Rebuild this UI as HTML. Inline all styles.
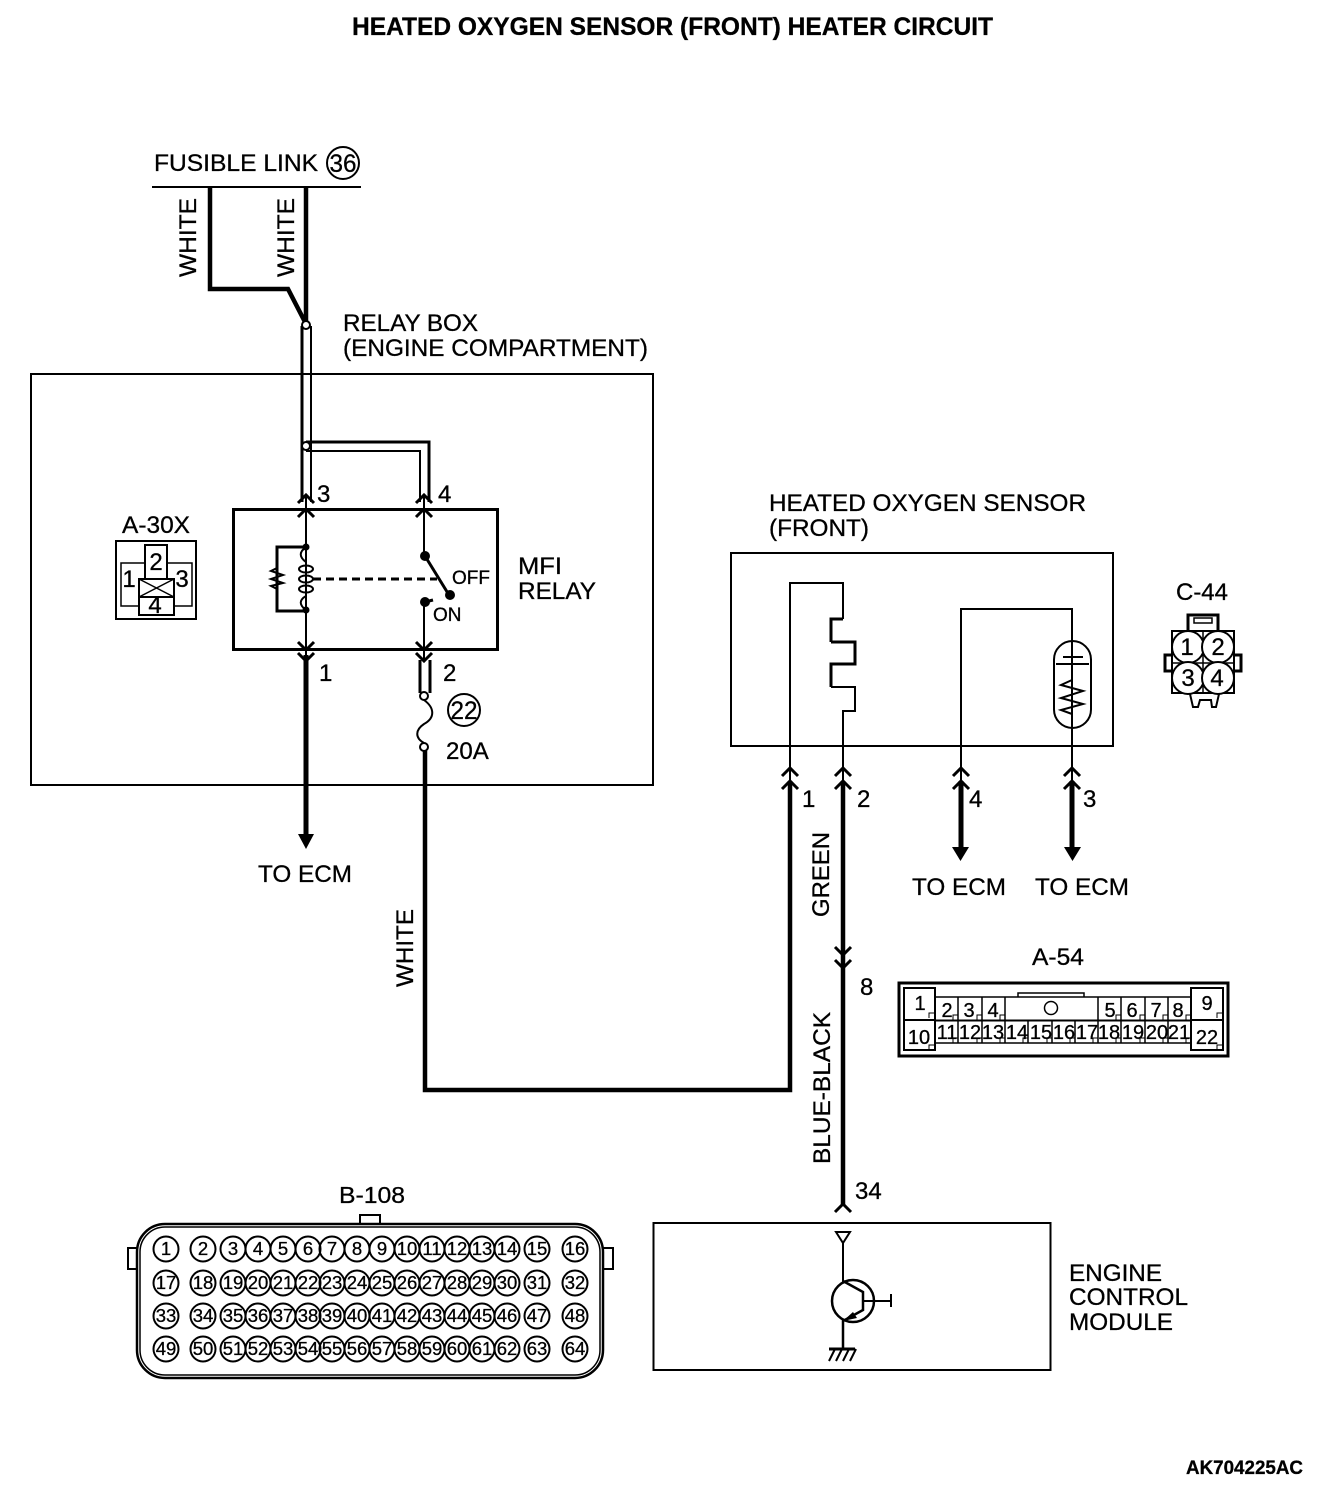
<!DOCTYPE html>
<html><head><meta charset="utf-8"><style>
html,body{margin:0;padding:0;background:#fff}
svg{display:block}
text{font-family:"Liberation Sans",sans-serif;fill:#000;font-size:24px;stroke:#000;stroke-width:.3px}
.s{font-size:19px}
.p{font-size:18.500px;text-anchor:middle}
.a{font-size:20px;text-anchor:middle}
.n{fill:none;stroke:#000;stroke-width:2}
.t{fill:none;stroke:#000;stroke-width:4.500}
.h{fill:none;stroke:#000;stroke-width:3}
.c{fill:none;stroke:#000;stroke-width:2}
.w{fill:#fff;stroke:#000;stroke-width:2}
</style></head><body>
<svg width="1344" height="1492" viewBox="0 0 1344 1492" xmlns="http://www.w3.org/2000/svg">
<text x="352" y="35" font-weight="bold" style="font-size:25px" textLength="641" lengthAdjust="spacingAndGlyphs">HEATED OXYGEN SENSOR (FRONT) HEATER CIRCUIT</text>

<!-- Fusible link -->
<text x="154" y="171" textLength="164" lengthAdjust="spacingAndGlyphs">FUSIBLE LINK</text>
<circle cx="343" cy="163" r="16" class="n"/><text x="343" y="172" text-anchor="middle" style="font-size:25px" textLength="27" lengthAdjust="spacingAndGlyphs">36</text>
<path d="M152 187H361" class="n"/>
<path d="M210 187V289H288L305 322M306 187V322" class="t"/>
<text transform="translate(196,277) rotate(-90)" textLength="79" lengthAdjust="spacingAndGlyphs">WHITE</text>
<text transform="translate(294,277) rotate(-90)" textLength="79" lengthAdjust="spacingAndGlyphs">WHITE</text>

<!-- Relay box -->
<text x="343" y="331" textLength="135" lengthAdjust="spacingAndGlyphs">RELAY BOX</text>
<text x="343" y="356" textLength="305" lengthAdjust="spacingAndGlyphs">(ENGINE COMPARTMENT)</text>
<rect x="31" y="374" width="622" height="411" class="n"/>

<path d="M302 326V502" class="h"/><path d="M311 326V502" class="n"/>
<path d="M306 442H429V502" class="h"/><path d="M306 451H420V502" class="n"/>
<circle cx="306" cy="325" r="4" class="w"/><circle cx="306" cy="446" r="4" class="w"/>
<text x="317" y="502">3</text><text x="438" y="502">4</text>

<rect x="233.500" y="509.500" width="264" height="140" class="h"/>
<path d="M306 497V660M424 497V555M424 601V660" class="n"/>
<g class="h">
<path d="M298 503L306 495L314 503M298 517L306 509L314 517M416 503L424 495L432 503M416 517L424 509L432 517"/>
<path d="M298 642L306 650L314 642M298 653L306 661L314 653M416 642L424 650L432 642M416 653L424 661L432 653"/>
</g>
<circle cx="306" cy="547" r="3.500"/><circle cx="306" cy="610" r="3.500"/>
<path d="M306 547H277V611H306" class="h"/>
<path d="M277 568L271 571L283 575L271 579L283 583L271 586L277 589" class="n"/>
<path d="M306 547C299 552 299 557 306 562M306 596C299 600 299 605 306 610" class="n"/>
<ellipse cx="306" cy="569" rx="7" ry="3.500" class="n"/><ellipse cx="306" cy="579" rx="7" ry="3.500" class="n"/><ellipse cx="306" cy="589" rx="7" ry="3.500" class="n"/>
<path d="M313 579H437" stroke="#000" stroke-width="3" stroke-dasharray="8 5" fill="none"/>
<circle cx="425" cy="556" r="5"/><path d="M425 556L449 595" class="h"/><circle cx="450" cy="595" r="5"/>
<circle cx="425" cy="602" r="5"/><path d="M425 602L433 600" class="h"/>
<text x="452" y="584" class="s">OFF</text><text x="433" y="621" class="s">ON</text>
<text x="518" y="574" textLength="44" lengthAdjust="spacingAndGlyphs">MFI</text>
<text x="518" y="599" textLength="78" lengthAdjust="spacingAndGlyphs">RELAY</text>

<!-- A-30X -->
<text x="122" y="533" textLength="68" lengthAdjust="spacingAndGlyphs">A-30X</text>
<rect x="116" y="541" width="80" height="78" class="n"/>
<rect x="121" y="563" width="71" height="43" style="fill:none;stroke:#000;stroke-width:1.500"/>
<rect x="145" y="545" width="22" height="34" class="w"/>
<rect x="139" y="579" width="35" height="18" class="w"/><path d="M139 579L174 597M174 579L139 597" stroke="#000" stroke-width="1.500"/>
<rect x="139" y="597" width="35" height="18" class="w"/>
<text x="156" y="570" text-anchor="middle">2</text><text x="129" y="587" text-anchor="middle">1</text><text x="182" y="587" text-anchor="middle">3</text><text x="155" y="613" text-anchor="middle">4</text>

<!-- Below relay -->
<path d="M306 655V836" stroke="#000" stroke-width="5" fill="none"/>
<path d="M298 834H314L306 849Z"/>
<text x="319" y="681">1</text><text x="443" y="681">2</text>
<path d="M420 660V693M430 660V693" class="h"/>
<circle cx="424" cy="696" r="4" class="w"/>
<path d="M424 700C435 708 435 718 424 724C415 730 415 738 424 743" class="n"/>
<circle cx="424" cy="747" r="4" class="w"/>
<circle cx="464" cy="710" r="16" class="n"/><text x="464" y="719" text-anchor="middle" style="font-size:25px" textLength="27" lengthAdjust="spacingAndGlyphs">22</text>
<text x="446" y="759">20A</text>
<text x="258" y="882" textLength="94" lengthAdjust="spacingAndGlyphs">TO ECM</text>

<path d="M425 751V1090H790V781" class="t"/>
<text transform="translate(413,987) rotate(-90)" textLength="78" lengthAdjust="spacingAndGlyphs">WHITE</text>

<!-- Sensor -->
<text x="769" y="511" textLength="317" lengthAdjust="spacingAndGlyphs">HEATED OXYGEN SENSOR</text>
<text x="769" y="536" textLength="100" lengthAdjust="spacingAndGlyphs">(FRONT)</text>
<rect x="731" y="553" width="382" height="193" class="n"/>
<path d="M790 781V583H843V619" class="n"/>
<path d="M843 619H831V642" class="h"/>
<path d="M831 642H855V664H831V687" class="h"/>
<path d="M831 687H855V711H843V781" class="n"/>
<path d="M961 781V609H1072V781" class="n"/>
<rect x="1054" y="641" width="37" height="87" rx="18.500" class="n"/>
<path d="M1063 657H1083" class="n"/><path d="M1056 664H1089" class="n"/>
<path d="M1072 664V680L1061 685L1083 691L1061 698L1083 704L1061 710L1072 714" class="n"/>
<g class="h">
<path d="M782 776L790 768L798 776M782 789L790 781L798 789M835 776L843 768L851 776M835 789L843 781L851 789"/>
<path d="M953 776L961 768L969 776M953 789L961 781L969 789M1064 776L1072 768L1080 776M1064 789L1072 781L1080 789"/>
</g>
<path d="M961 781V848M1072 781V848" stroke="#000" stroke-width="5"/>
<path d="M952 847H969L960.500 861Z"/><path d="M1064 847H1081L1072.500 861Z"/>
<text x="802" y="807">1</text><text x="857" y="807">2</text><text x="969" y="807">4</text><text x="1083" y="807">3</text>
<text x="912" y="895" textLength="94" lengthAdjust="spacingAndGlyphs">TO ECM</text>
<text x="1035" y="895" textLength="94" lengthAdjust="spacingAndGlyphs">TO ECM</text>

<path d="M843 781V1205" class="t"/>
<path d="M835 947L843 955L851 947M835 960L843 968L851 960" class="h"/>
<path d="M835 1212L843 1204L851 1212" class="h"/>
<text transform="translate(829,917) rotate(-90)" textLength="85" lengthAdjust="spacingAndGlyphs">GREEN</text>
<text transform="translate(830,1164) rotate(-90)" textLength="152" lengthAdjust="spacingAndGlyphs">BLUE-BLACK</text>
<text x="860" y="995">8</text>
<text x="855" y="1199">34</text>

<!-- C-44 -->
<text x="1176" y="600" textLength="52" lengthAdjust="spacingAndGlyphs">C-44</text>
<path d="M1188 631V615H1218V631" class="h"/><rect x="1194" y="618" width="18" height="5" stroke="#000" stroke-width="1.500" fill="none"/>
<rect x="1172" y="631" width="62" height="62" class="n"/>
<path d="M1203 631V693M1172 663H1234" class="n" style="stroke-width:1.500"/>
<path d="M1172 655H1165V671H1172M1234 655H1241V671H1234" class="h"/>
<path d="M1190 694L1193 707H1198L1200 700H1211L1212 707H1216L1219 694" class="n"/>
<circle cx="1188" cy="647" r="16" class="w"/><circle cx="1218" cy="647" r="16" class="w"/><circle cx="1188" cy="678" r="16" class="w"/><circle cx="1218" cy="678" r="16" class="w"/>
<g text-anchor="middle"><text x="1187" y="655">1</text><text x="1218" y="655">2</text><text x="1188" y="686">3</text><text x="1217" y="686">4</text></g>

<!-- A-54 -->
<text x="1032" y="965" textLength="52" lengthAdjust="spacingAndGlyphs">A-54</text>
<rect x="899" y="983" width="329" height="73" class="h"/>
<rect x="935" y="997" width="256" height="46" class="n" style="stroke-width:1.500"/>
<path d="M935 1020.500H1191" class="n"/>
<path d="M958 997V1043M982 997V1043M1005 997V1043M1098 997V1043M1121 997V1043M1145 997V1043M1168 997V1043M1028 1020V1043M1052 1020V1043M1075 1020V1043" stroke="#000" stroke-width="1.500"/>
<path d="M1018 997V993H1084V997" stroke="#000" stroke-width="1.500" fill="none"/>
<circle cx="1051" cy="1008" r="6.500" stroke="#000" stroke-width="1.500" fill="none"/>
<rect x="904" y="988" width="31" height="62" class="n"/><path d="M904 1020H935" class="n"/>
<rect x="1191" y="988" width="32" height="62" class="n"/><path d="M1191 1020H1223" class="n"/>
<path d="M929 1018V1013H935M929 1050V1045H935M1217 1018V1013H1223M1217 1050V1045H1223M953 1020V1015H958M977 1020V1015H982M1000 1020V1015H1005M1116 1020V1015H1121M1140 1020V1015H1145M1163 1020V1015H1168M1186 1020V1015H1191M953 1043V1038H958M977 1043V1038H982M1000 1043V1038H1005M1023 1043V1038H1028M1047 1043V1038H1052M1070 1043V1038H1075M1093 1043V1038H1098M1116 1043V1038H1121M1140 1043V1038H1145M1163 1043V1038H1168M1186 1043V1038H1191" stroke="#000" stroke-width="1" fill="none"/>
<text x="920" y="1010" class="a">1</text><text x="947" y="1017" class="a">2</text><text x="969" y="1017" class="a">3</text><text x="993" y="1017" class="a">4</text><text x="1110" y="1017" class="a">5</text><text x="1132" y="1017" class="a">6</text><text x="1156" y="1017" class="a">7</text><text x="1178" y="1017" class="a">8</text><text x="1207" y="1010" class="a">9</text>
<text x="919" y="1044" class="a">10</text><text x="947" y="1039" class="a">11</text><text x="970" y="1039" class="a">12</text><text x="993" y="1039" class="a">13</text><text x="1017" y="1039" class="a">14</text><text x="1041" y="1039" class="a">15</text><text x="1064" y="1039" class="a">16</text><text x="1087" y="1039" class="a">17</text><text x="1109" y="1039" class="a">18</text><text x="1133" y="1039" class="a">19</text><text x="1157" y="1039" class="a">20</text><text x="1179" y="1039" class="a">21</text><text x="1207" y="1044" class="a">22</text>

<!-- B-108 -->
<text x="339" y="1203" style="font-size:23px" textLength="66" lengthAdjust="spacingAndGlyphs">B-108</text>
<rect x="360" y="1215" width="20" height="10" class="n"/>
<rect x="128" y="1248" width="10" height="21" class="n"/><rect x="603" y="1248" width="10" height="21" class="n"/>
<rect x="137" y="1224" width="466" height="154" rx="28" fill="#fff" stroke="#000" stroke-width="2.500"/>
<rect x="140" y="1227" width="460" height="148" rx="25" class="n" style="stroke-width:1.500"/>
<g fill="none" stroke="#000" stroke-width="2">
<circle cx="166" cy="1249" r="12.500"/><circle cx="203" cy="1249" r="12.500"/><circle cx="233" cy="1249" r="12.500"/><circle cx="258" cy="1249" r="12.500"/><circle cx="283" cy="1249" r="12.500"/><circle cx="308" cy="1249" r="12.500"/><circle cx="332" cy="1249" r="12.500"/><circle cx="357" cy="1249" r="12.500"/><circle cx="382" cy="1249" r="12.500"/><circle cx="407" cy="1249" r="12.500"/><circle cx="432" cy="1249" r="12.500"/><circle cx="457" cy="1249" r="12.500"/><circle cx="482" cy="1249" r="12.500"/><circle cx="507" cy="1249" r="12.500"/><circle cx="537" cy="1249" r="12.500"/><circle cx="575" cy="1249" r="12.500"/>
<circle cx="166" cy="1283" r="12.500"/><circle cx="203" cy="1283" r="12.500"/><circle cx="233" cy="1283" r="12.500"/><circle cx="258" cy="1283" r="12.500"/><circle cx="283" cy="1283" r="12.500"/><circle cx="308" cy="1283" r="12.500"/><circle cx="332" cy="1283" r="12.500"/><circle cx="357" cy="1283" r="12.500"/><circle cx="382" cy="1283" r="12.500"/><circle cx="407" cy="1283" r="12.500"/><circle cx="432" cy="1283" r="12.500"/><circle cx="457" cy="1283" r="12.500"/><circle cx="482" cy="1283" r="12.500"/><circle cx="507" cy="1283" r="12.500"/><circle cx="537" cy="1283" r="12.500"/><circle cx="575" cy="1283" r="12.500"/>
<circle cx="166" cy="1316" r="12.500"/><circle cx="203" cy="1316" r="12.500"/><circle cx="233" cy="1316" r="12.500"/><circle cx="258" cy="1316" r="12.500"/><circle cx="283" cy="1316" r="12.500"/><circle cx="308" cy="1316" r="12.500"/><circle cx="332" cy="1316" r="12.500"/><circle cx="357" cy="1316" r="12.500"/><circle cx="382" cy="1316" r="12.500"/><circle cx="407" cy="1316" r="12.500"/><circle cx="432" cy="1316" r="12.500"/><circle cx="457" cy="1316" r="12.500"/><circle cx="482" cy="1316" r="12.500"/><circle cx="507" cy="1316" r="12.500"/><circle cx="537" cy="1316" r="12.500"/><circle cx="575" cy="1316" r="12.500"/>
<circle cx="166" cy="1349" r="12.500"/><circle cx="203" cy="1349" r="12.500"/><circle cx="233" cy="1349" r="12.500"/><circle cx="258" cy="1349" r="12.500"/><circle cx="283" cy="1349" r="12.500"/><circle cx="308" cy="1349" r="12.500"/><circle cx="332" cy="1349" r="12.500"/><circle cx="357" cy="1349" r="12.500"/><circle cx="382" cy="1349" r="12.500"/><circle cx="407" cy="1349" r="12.500"/><circle cx="432" cy="1349" r="12.500"/><circle cx="457" cy="1349" r="12.500"/><circle cx="482" cy="1349" r="12.500"/><circle cx="507" cy="1349" r="12.500"/><circle cx="537" cy="1349" r="12.500"/><circle cx="575" cy="1349" r="12.500"/>
</g>
<g>
<text x="166" y="1255" class="p">1</text><text x="203" y="1255" class="p">2</text><text x="233" y="1255" class="p">3</text><text x="258" y="1255" class="p">4</text><text x="283" y="1255" class="p">5</text><text x="308" y="1255" class="p">6</text><text x="332" y="1255" class="p">7</text><text x="357" y="1255" class="p">8</text><text x="382" y="1255" class="p">9</text><text x="407" y="1255" class="p">10</text><text x="432" y="1255" class="p">11</text><text x="457" y="1255" class="p">12</text><text x="482" y="1255" class="p">13</text><text x="507" y="1255" class="p">14</text><text x="537" y="1255" class="p">15</text><text x="575" y="1255" class="p">16</text>
<text x="166" y="1289" class="p">17</text><text x="203" y="1289" class="p">18</text><text x="233" y="1289" class="p">19</text><text x="258" y="1289" class="p">20</text><text x="283" y="1289" class="p">21</text><text x="308" y="1289" class="p">22</text><text x="332" y="1289" class="p">23</text><text x="357" y="1289" class="p">24</text><text x="382" y="1289" class="p">25</text><text x="407" y="1289" class="p">26</text><text x="432" y="1289" class="p">27</text><text x="457" y="1289" class="p">28</text><text x="482" y="1289" class="p">29</text><text x="507" y="1289" class="p">30</text><text x="537" y="1289" class="p">31</text><text x="575" y="1289" class="p">32</text>
<text x="166" y="1322" class="p">33</text><text x="203" y="1322" class="p">34</text><text x="233" y="1322" class="p">35</text><text x="258" y="1322" class="p">36</text><text x="283" y="1322" class="p">37</text><text x="308" y="1322" class="p">38</text><text x="332" y="1322" class="p">39</text><text x="357" y="1322" class="p">40</text><text x="382" y="1322" class="p">41</text><text x="407" y="1322" class="p">42</text><text x="432" y="1322" class="p">43</text><text x="457" y="1322" class="p">44</text><text x="482" y="1322" class="p">45</text><text x="507" y="1322" class="p">46</text><text x="537" y="1322" class="p">47</text><text x="575" y="1322" class="p">48</text>
<text x="166" y="1355" class="p">49</text><text x="203" y="1355" class="p">50</text><text x="233" y="1355" class="p">51</text><text x="258" y="1355" class="p">52</text><text x="283" y="1355" class="p">53</text><text x="308" y="1355" class="p">54</text><text x="332" y="1355" class="p">55</text><text x="357" y="1355" class="p">56</text><text x="382" y="1355" class="p">57</text><text x="407" y="1355" class="p">58</text><text x="432" y="1355" class="p">59</text><text x="457" y="1355" class="p">60</text><text x="482" y="1355" class="p">61</text><text x="507" y="1355" class="p">62</text><text x="537" y="1355" class="p">63</text><text x="575" y="1355" class="p">64</text>
</g>

<!-- ECM -->
<rect x="653.500" y="1223" width="397" height="147" class="n"/>
<path d="M836 1232H850L843 1243Z" class="n"/>
<path d="M843 1243V1349" class="n"/>
<circle cx="853" cy="1301" r="21" fill="#fff" stroke="#000" stroke-width="2.500"/>
<path d="M843 1281L863 1292V1310L843 1321V1349" class="n" style="stroke-width:2.500"/>
<path d="M843 1321L853 1312L857 1318Z"/>
<path d="M863 1301H891" class="n"/><path d="M891 1294V1307" class="n"/>
<path d="M829 1349H855" class="h"/>
<path d="M835 1349L829 1361M842 1349L836 1361M849 1349L843 1361M856 1349L850 1361" class="n"/>
<text x="1069" y="1281" textLength="93" lengthAdjust="spacingAndGlyphs">ENGINE</text>
<text x="1069" y="1305" textLength="119" lengthAdjust="spacingAndGlyphs">CONTROL</text>
<text x="1069" y="1330" textLength="104" lengthAdjust="spacingAndGlyphs">MODULE</text>

<text x="1186" y="1474" font-weight="bold" style="font-size:19px" textLength="117" lengthAdjust="spacingAndGlyphs">AK704225AC</text>
</svg>
</body></html>
